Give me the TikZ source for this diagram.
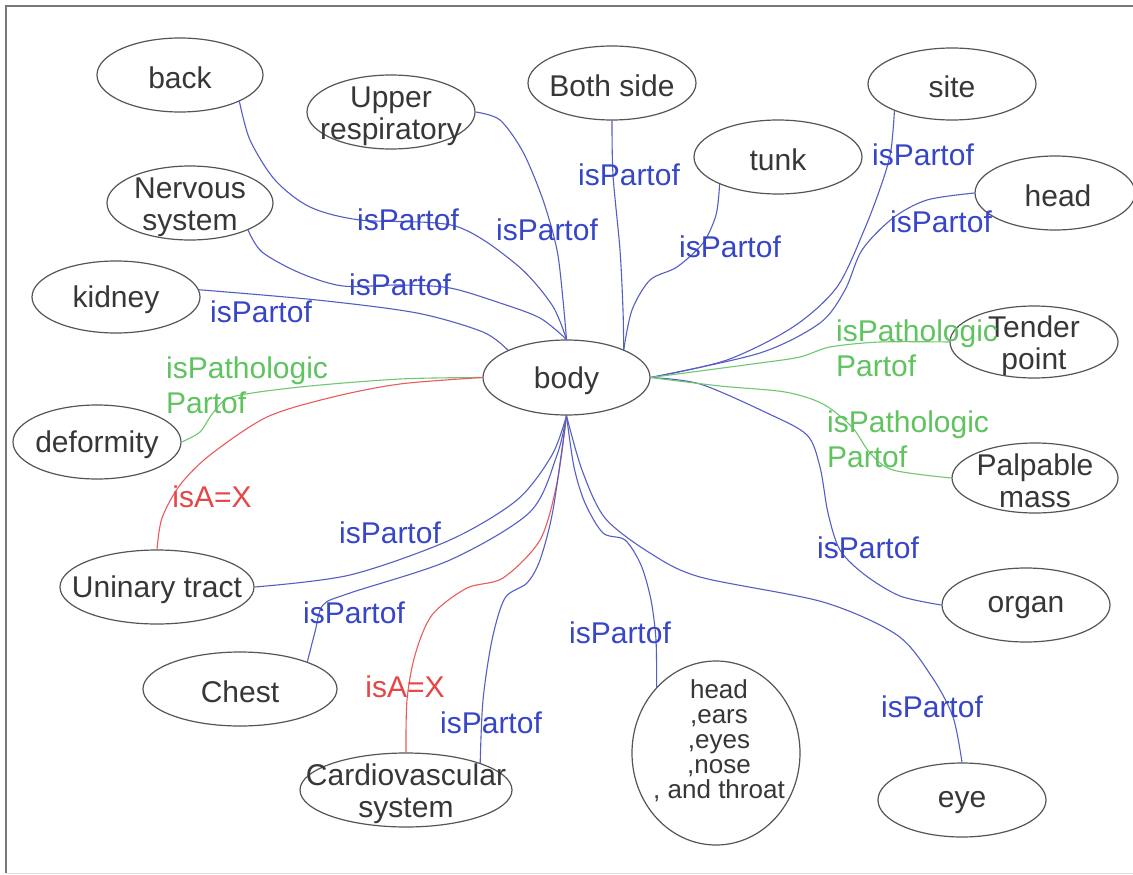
\documentclass[tikz,border=0pt]{standalone}
\usepackage{fontspec}
\setmainfont{Liberation Sans}
\usetikzlibrary{shapes.geometric}
\definecolor{ellc}{RGB}{85,85,85}
\definecolor{txtc}{RGB}{55,55,55}
\definecolor{bline}{RGB}{85,95,195}
\definecolor{blab}{RGB}{55,70,200}
\definecolor{gline}{RGB}{110,200,110}
\definecolor{glab}{RGB}{95,195,95}
\definecolor{rline}{RGB}{235,90,90}
\definecolor{rlab}{RGB}{230,70,70}
\definecolor{framec}{RGB}{120,120,120}
\tikzset{
  ell/.style={draw=ellc, line width=1.2pt, ellipse, inner sep=0pt},
  txt/.style={text=txtc, inner sep=0pt, align=center, font=\fontsize{30}{32}\selectfont},
  htxt/.style={text=txtc, inner sep=0pt, align=center, font=\fontsize{26}{25}\selectfont},
  lb/.style={inner sep=0pt, font=\fontsize{30}{35}\selectfont},
  bl/.style={draw=bline, line width=1.1pt},
  gr/.style={draw=gline, line width=1.1pt},
  rd/.style={draw=rline, line width=1.1pt},
}
\begin{document}
\begin{tikzpicture}[x=1pt,y=-1pt]
\useasboundingbox (0,0) rectangle (1133,875);
\fill[white] (0,0) rectangle (1133,875);
\draw[framec, line width=1.5pt] (6,873) -- (6,6) -- (1133,6);
\draw[black!12, line width=1pt] (6,873) -- (1133,873);

% ellipses
\node[ell, minimum width=166pt, minimum height=74pt] (back) at (180,75) {};
\node[ell, minimum width=168pt, minimum height=74pt] (upper) at (391,112) {};
\node[ell, minimum width=168pt, minimum height=74pt] (both) at (612,83) {};
\node[ell, minimum width=168pt, minimum height=74pt] (tunk) at (778,157) {};
\node[ell, minimum width=168pt, minimum height=72pt] (site) at (952,84) {};
\node[ell, minimum width=160pt, minimum height=74pt] (head) at (1055,193) {};
\node[ell, minimum width=166pt, minimum height=74pt] (nervous) at (190,203) {};
\node[ell, minimum width=168pt, minimum height=72pt] (kidney) at (116,297) {};
\node[ell, minimum width=167pt, minimum height=75pt] (body) at (566.5,377.5) {};
\node[ell, minimum width=168pt, minimum height=72pt] (tender) at (1034,342) {};
\node[ell, minimum width=168pt, minimum height=74pt] (deformity) at (97,442) {};
\node[ell, minimum width=166pt, minimum height=70pt] (palpable) at (1035,478) {};
\node[ell, minimum width=194pt, minimum height=74pt] (uninary) at (157,587) {};
\node[ell, minimum width=168pt, minimum height=74pt] (organ) at (1026,605) {};
\node[ell, minimum width=194pt, minimum height=74pt] (chest) at (240,689) {};
\node[ell, minimum width=212pt, minimum height=74pt] (cardio) at (406,790) {};
\node[ell, minimum width=168pt, minimum height=184pt] (hee) at (716,753) {};
\node[ell, minimum width=168pt, minimum height=74pt] (eye) at (962,800) {};

% texts
\node[txt] (back-t) at (180,78) {back};
\node[txt] (upper-t) at (391,116) {Upper\\respiratory};
\node[txt] (both-t) at (612,86) {Both side};
\node[txt] (tunk-t) at (778,160) {tunk};
\node[txt] (site-t) at (952,87) {site};
\node[txt] (head-t) at (1058,196) {head};
\node[txt] (nervous-t) at (190,207) {Nervous\\system};
\node[txt] (kidney-t) at (116,300) {kidney};
\node[txt] (body-t) at (566.5,381) {body};
\node[txt] (tender-t) at (1034,346) {Tender\\point};
\node[txt] (deformity-t) at (97,445) {deformity};
\node[txt] (palpable-t) at (1035,481) {Palpable\\mass};
\node[txt] (uninary-t) at (157,590) {Uninary tract};
\node[txt] (organ-t) at (1026,608) {organ};
\node[txt] (chest-t) at (240,692) {Chest};
\node[txt] (cardio-t) at (406,794) {Cardiovascular\\system};
\node[htxt] (hee-t) at (719,741) {head\\,ears\\,eyes\\,nose\\, and throat};
\node[txt] (eye-t) at (962,803) {eye};

% connectors
\draw[bl] plot[smooth, tension=0.5] coordinates {(back.336) (250,140) (275,180) (310,207) (360,220) (455,226) (517,265) (552,305) (body.north)};
\draw[bl] plot[smooth, tension=0.5] coordinates {(upper.east) (500,120) (523,152) (543,200) (557,250) (563,300) (body.north)};
\draw[bl] plot[smooth, tension=0.5] coordinates {(both.south) (613,175) (620,250) (623,310) (body.26)};
\draw[bl] plot[smooth, tension=0.5] coordinates {(tunk.205) (716,215) (703,243) (677,267) (650,280) (632,310) (body.26)};
\draw[bl] plot[smooth, tension=0.5] coordinates {(site.205) (891,150) (883,180) (865,228) (837,287) (793,327) (727,360) (body.east)};
\draw[bl] plot[smooth, tension=0.5] coordinates {(head.180) (927,200) (893,218) (862,250) (845,290) (820,323) (760,353) (body.east)};
\draw[bl] plot[smooth, tension=0.5] coordinates {(nervous.335) (262,252) (300,273) (343,286) (400,285) (450,288) (500,303) (540,318) (body.north)};
\draw[bl] plot[smooth, tension=0.5] coordinates {(kidney.5) (317,300) (417,313) (483,332) (body.155)};
\draw[gr] plot[smooth, tension=0.5] coordinates {(deformity.east) (200,432) (213,413) (232,397) (300,387) (400,379) (body.west)};
\draw[rd] plot[smooth, tension=0.5] coordinates {(uninary.north) (162,518) (180,485) (210,455) (267,417) (333,397) (400,384) (body.west)};
\draw[bl] plot[smooth, tension=0.5] coordinates {(uninary.east) (350,575) (450,540) (517,500) (552,455) (body.south)};
\draw[bl] plot[smooth, tension=0.5] coordinates {(chest.22) (315,632) (323,605) (350,593) (450,560) (530,512) (557,455) (body.south)};
\draw[rd] plot[smooth, tension=0.5] coordinates {(cardio.north) (407,700) (415,655) (432,615) (467,588) (503,578) (540,540) (557,483) (body.south)};
\draw[bl] plot[smooth, tension=0.5] coordinates {(cardio.20) (483,700) (492,640) (505,598) (527,583) (540,560) (553,510) (body.south)};
\draw[bl] plot[smooth, tension=0.5] coordinates {(hee.132) (656,640) (651,600) (641,565) (625,540) (603,533) (585,503) (574,467) (body.south)};
\draw[bl] plot[smooth, tension=0.5] coordinates {(body.south) (582,470) (605,518) (650,553) (700,577) (823,602) (897,635) (932,677) (953,717) (eye.north)};
\draw[bl] plot[smooth, tension=0.5] coordinates {(body.east) (700,384) (767,413) (807,435) (820,467) (828,513) (840,550) (865,575) (900,596) (organ.west)};
\draw[gr] plot[smooth, tension=0.5] coordinates {(body.east) (760,363) (800,357) (830,347) (880,342) (tender.west)};
\draw[gr] plot[smooth, tension=0.5] coordinates {(body.east) (720,386) (785,392) (823,404) (852,427) (870,453) (893,470) (palpable.west)};

% labels
\node[lb, text=blab] (l-back) at (408,220) {isPartof};
\node[lb, text=blab] (l-upper) at (547,230) {isPartof};
\node[lb, text=blab] (l-both) at (629,175) {isPartof};
\node[lb, text=blab] (l-tunk) at (730,247) {isPartof};
\node[lb, text=blab] (l-site) at (923,155) {isPartof};
\node[lb, text=blab] (l-head) at (941,222) {isPartof};
\node[lb, text=blab] (l-nervous) at (400,285) {isPartof};
\node[lb, text=blab] (l-kidney) at (261,312) {isPartof};
\node[lb, text=glab, align=left, anchor=west] (l-deformity) at (166,385) {isPathologic\\Partof};
\node[lb, text=rlab] (l-unired) at (212,497) {isA=X};
\node[lb, text=blab] (l-uniblue) at (390,533) {isPartof};
\node[lb, text=blab] (l-chest) at (354,613) {isPartof};
\node[lb, text=rlab] (l-cardred) at (405,687) {isA=X};
\node[lb, text=blab] (l-cardblue) at (491,723) {isPartof};
\node[lb, text=blab] (l-hee) at (620,633) {isPartof};
\node[lb, text=blab] (l-eye) at (932,707) {isPartof};
\node[lb, text=blab] (l-organ) at (868,548) {isPartof};
\node[lb, text=glab, align=left, anchor=west] (l-tender) at (836,348) {isPathologic\\Partof};
\node[lb, text=glab, align=left, anchor=west] (l-palpable) at (827,439) {isPathologic\\Partof};
\end{tikzpicture}
\end{document}
